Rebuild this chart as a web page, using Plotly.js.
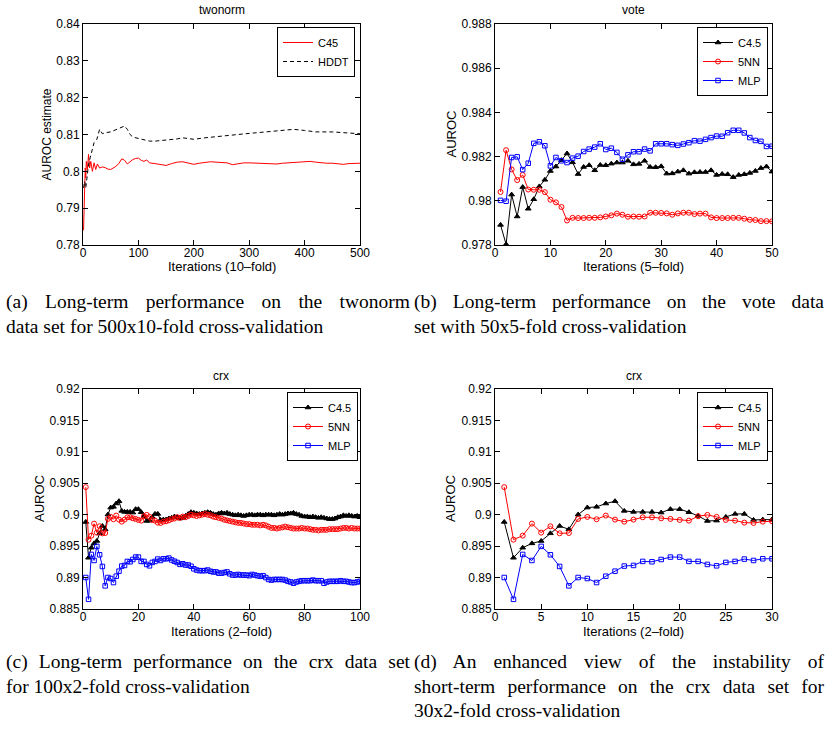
<!DOCTYPE html>
<html>
<head>
<meta charset="utf-8">
<script src="https://cdn.plot.ly/plotly-3.0.1.min.js"></script>
<style>
  html, body { margin: 0; padding: 0; background: #fff; }
  #chart { width: 828px; height: 729px; }
</style>
</head>
<body>
<div id="chart"></div>
<script>
// ---------------- DATA ----------------
// (a) twonorm, 500x10-fold
const twonormIterC45 = [1,2,3,4,5,6,8,10,12,14,17,20,23,26,30,35,40,45,50,55,60,65,70,75,80,85,90,95,100,105,110,115,120,130,140,150,160,165,170,180,190,200,210,220,230,240,250,260,270,280,290,300,310,320,330,340,350,360,370,380,390,400,410,420,430,440,450,460,470,480,490,500];
const twonormC45 = [0.7840,0.7900,0.7973,0.8009,0.7982,0.8027,0.8005,0.8046,0.8009,0.8027,0.8000,0.8023,0.8005,0.8020,0.8009,0.8012,0.8010,0.8006,0.8005,0.8009,0.8014,0.8022,0.8034,0.8030,0.8020,0.8026,0.8032,0.8035,0.8036,0.8030,0.8027,0.8031,0.8023,0.8021,0.8018,0.8016,0.8021,0.8024,0.8025,0.8026,0.8023,0.8019,0.8022,0.8024,0.8026,0.8025,0.8024,0.8023,0.8018,0.8021,0.8023,0.8023,0.8022,0.8022,0.8022,0.8021,0.8020,0.8022,0.8023,0.8023,0.8025,0.8026,0.8027,0.8025,0.8023,0.8022,0.8022,0.8021,0.8019,0.8021,0.8022,0.8022];
const twonormIterHDDT = [1,3,5,8,10,13,16,20,25,30,35,40,50,60,70,75,80,85,90,100,110,120,130,150,170,180,200,220,250,280,300,330,360,380,400,420,450,480,500];
const twonormHDDT = [0.7955,0.7973,0.7955,0.7991,0.8018,0.8037,0.8055,0.8078,0.8087,0.8114,0.8102,0.8105,0.8107,0.8114,0.8120,0.8123,0.8114,0.8100,0.8093,0.8089,0.8087,0.8082,0.8082,0.8084,0.8088,0.8091,0.8087,0.8091,0.8096,0.8100,0.8103,0.8107,0.8110,0.8114,0.8111,0.8107,0.8107,0.8105,0.8102];

// (b) vote, 50x5-fold (iterations 1..50)
const voteC45 = [0.97891,0.97803,0.98028,0.97929,0.98062,0.97964,0.98007,0.98065,0.98095,0.98135,0.98155,0.98184,0.98214,0.98174,0.98121,0.98153,0.98161,0.98138,0.98162,0.98161,0.98168,0.98173,0.98173,0.98181,0.98165,0.98167,0.98181,0.98153,0.98152,0.98156,0.98123,0.98124,0.98132,0.98138,0.98123,0.98129,0.98130,0.98130,0.98138,0.98117,0.98121,0.98120,0.98107,0.98117,0.98120,0.98126,0.98135,0.98148,0.98155,0.98132];
const vote5NN = [0.98040,0.98229,0.98142,0.98094,0.98117,0.98051,0.98050,0.98050,0.98039,0.98005,0.97993,0.97972,0.97911,0.97923,0.97922,0.97922,0.97923,0.97923,0.97925,0.97929,0.97934,0.97942,0.97937,0.97928,0.97929,0.97928,0.97929,0.97946,0.97946,0.97945,0.97943,0.97937,0.97943,0.97946,0.97946,0.97940,0.97942,0.97942,0.97925,0.97922,0.97922,0.97922,0.97923,0.97923,0.97919,0.97914,0.97913,0.97908,0.97908,0.97907];
const voteMLP = [0.98002,0.97998,0.98196,0.98199,0.98141,0.98170,0.98260,0.98267,0.98249,0.98158,0.98196,0.98181,0.98173,0.98193,0.98202,0.98223,0.98234,0.98243,0.98258,0.98232,0.98238,0.98219,0.98188,0.98208,0.98222,0.98222,0.98234,0.98226,0.98258,0.98258,0.98258,0.98254,0.98251,0.98257,0.98263,0.98272,0.98270,0.98278,0.98286,0.98293,0.98292,0.98308,0.98319,0.98319,0.98307,0.98286,0.98273,0.98269,0.98246,0.98247];

// (c)/(d) crx, 2-fold (iterations 1..100; (d) shows the first 30)
const crxC45 = [0.89885,0.89315,0.89475,0.89544,0.89582,0.89704,0.89821,0.89768,0.90002,0.90114,0.90125,0.90178,0.90215,0.90061,0.90045,0.90045,0.90045,0.90034,0.90088,0.90088,0.90040,0.89981,0.89901,0.89906,0.89965,0.90013,0.90013,0.89917,0.89922,0.89922,
  0.8994,0.8995,0.8997,0.8996,0.8994,0.8995,0.8998,0.9001,0.9004,0.9003,
  0.9002,0.9001,0.9002,0.9003,0.9004,0.9003,0.9001,0.9000,0.9002,0.9003,
  0.9002,0.9003,0.9001,0.9000,0.8999,0.9000,0.8999,0.8998,0.8999,0.9000,
  0.9000,0.8999,0.9000,0.9000,0.8999,0.9000,0.9000,0.9000,0.8999,0.9000,
  0.9001,0.9000,0.9001,0.9002,0.9002,0.9003,0.9001,0.9000,0.8998,0.8997,
  0.8997,0.8996,0.8997,0.8996,0.8995,0.8996,0.8995,0.8994,0.8993,0.8993,
  0.8994,0.8996,0.8997,0.8999,0.8998,0.8999,0.8998,0.8997,0.8998,0.8996];
const crx5NN = [0.90439,0.89603,0.89667,0.89858,0.89715,0.89816,0.89704,0.89709,0.89933,0.89965,0.89928,0.89986,0.89922,0.89890,0.89922,0.89959,0.89959,0.89943,0.89933,0.89917,0.89906,0.89976,0.89997,0.89965,0.89917,0.89906,0.89874,0.89869,0.89890,0.89896,
  0.8991,0.8993,0.8994,0.8996,0.8995,0.8997,0.8996,0.8998,0.9000,0.8999,
  0.8998,0.8999,0.9000,0.9001,0.9000,0.8999,0.8997,0.8996,0.8995,0.8994,
  0.8992,0.8991,0.8990,0.8989,0.8988,0.8987,0.8987,0.8986,0.8985,0.8985,
  0.8984,0.8984,0.8984,0.8983,0.8984,0.8983,0.8981,0.8979,0.8979,0.8978,
  0.8979,0.8980,0.8981,0.8980,0.8979,0.8978,0.8978,0.8978,0.8979,0.8978,
  0.8978,0.8977,0.8976,0.8976,0.8975,0.8976,0.8976,0.8976,0.8977,0.8977,
  0.8977,0.8977,0.8978,0.8979,0.8979,0.8978,0.8979,0.8978,0.8978,0.8978];
const crxMLP = [0.89001,0.88654,0.89368,0.89272,0.89496,0.89363,0.89177,0.88868,0.89001,0.88985,0.88921,0.89022,0.89102,0.89183,0.89193,0.89257,0.89251,0.89288,0.89326,0.89326,0.89257,0.89257,0.89209,0.89187,0.89241,0.89257,0.89294,0.89272,0.89299,0.89299,
  0.8931,0.8928,0.8926,0.8924,0.8921,0.8922,0.8920,0.8920,0.8918,0.8914,
  0.8912,0.8911,0.8911,0.8911,0.8912,0.8910,0.8909,0.8909,0.8907,0.8907,
  0.8908,0.8909,0.8906,0.8904,0.8904,0.8905,0.8904,0.8904,0.8904,0.8903,
  0.8905,0.8904,0.8903,0.8902,0.8903,0.8900,0.8897,0.8896,0.8897,0.8897,
  0.8897,0.8897,0.8896,0.8894,0.8893,0.8891,0.8893,0.8894,0.8895,0.8895,
  0.8895,0.8895,0.8896,0.8895,0.8895,0.8895,0.8891,0.8893,0.8894,0.8894,
  0.8894,0.8894,0.8895,0.8894,0.8894,0.8893,0.8892,0.8892,0.8893,0.8894];

// tick labels
const twonormXTicks = [0,100,200,300,400,500];
const twonormYTicks = [0.78,0.79,0.80,0.81,0.82,0.83,0.84];
const twonormYLabels = ['0.78','0.79','0.8','0.81','0.82','0.83','0.84'];
const voteXTicks = [0,10,20,30,40,50];
const voteYTicks = [0.978,0.980,0.982,0.984,0.986,0.988];
const voteYLabels = ['0.978','0.98','0.982','0.984','0.986','0.988'];
const crxLongXTicks = [0,20,40,60,80,100];
const crxShortXTicks = [0,5,10,15,20,25,30];
const crxYTicks = [0.885,0.890,0.895,0.900,0.905,0.910,0.915,0.920];
const crxYLabels = ['0.885','0.89','0.895','0.9','0.905','0.91','0.915','0.92'];

const seriesNames = ['C4.5','5NN','MLP'];

// ---------------- BUILD ----------------
const W = 828, H = 729;
const px = v => v / W;
const py = v => 1 - v / H;
const range1 = n => Array.from({length: n}, (_, i) => i + 1);

const RED = 'rgb(255,0,0)', BLUE = 'rgb(0,0,255)', BLACK = 'rgb(0,0,0)';
const styles = [
  {color: BLACK, symbol: 'triangle-up', size: 5},
  {color: RED, symbol: 'circle-open', size: 5},
  {color: BLUE, symbol: 'square-open', size: 4.5}
];

const data = [];
data.push({x: twonormIterC45, y: twonormC45, name: 'C45', type: 'scatter', mode: 'lines',
  line: {color: RED, width: 1}, xaxis: 'x', yaxis: 'y', legend: 'legend'});
data.push({x: twonormIterHDDT, y: twonormHDDT, name: 'HDDT', type: 'scatter', mode: 'lines',
  line: {color: BLACK, width: 1, dash: '4px,3px'}, xaxis: 'x', yaxis: 'y', legend: 'legend'});

function addTriple(ys, n, ax, ay, leg) {
  ys.forEach((arr, i) => {
    const s = styles[i];
    data.push({
      x: range1(n), y: arr.slice(0, n), name: seriesNames[i], type: 'scatter', mode: 'lines+markers',
      line: {color: s.color, width: 1},
      marker: {symbol: s.symbol, size: s.size, color: s.color, line: {color: s.color, width: 1}},
      xaxis: ax, yaxis: ay, legend: leg
    });
  });
}
addTriple([voteC45, vote5NN, voteMLP], 50, 'x2', 'y2', 'legend2');
addTriple([crxC45, crx5NN, crxMLP], 100, 'x3', 'y3', 'legend3');
addTriple([crxC45, crx5NN, crxMLP], 30, 'x4', 'y4', 'legend4');

const FONT = 'Liberation Sans, Arial, Helvetica, sans-serif';
const SERIF = 'Liberation Serif, Times New Roman, Times, serif';

function axisBase(extra) {
  return Object.assign({
    showline: true, linecolor: BLACK, linewidth: 1, mirror: 'allticks',
    ticks: 'inside', ticklen: 5, tickwidth: 1, tickcolor: BLACK,
    showgrid: false, zeroline: false, autorange: false,
    tickfont: {family: FONT, size: 12, color: BLACK}
  }, extra);
}

const colL = [px(83), px(360)];
const colR = [px(495), px(772)];
const rowT = [py(245), py(24)];
const rowB = [py(609), py(389)];

function legendAt(rightPx, topPx) {
  return {
    x: px(rightPx), y: py(topPx), xanchor: 'right', yanchor: 'top',
    bgcolor: 'white', bordercolor: BLACK, borderwidth: 1,
    font: {family: FONT, size: 11, color: BLACK},
    itemwidth: 30, tracegroupgap: 0
  };
}

function textAnno(text, xPx, yPx, opts) {
  return Object.assign({
    text: text, x: px(xPx), y: py(yPx), xref: 'paper', yref: 'paper',
    showarrow: false, xanchor: 'center', yanchor: 'middle',
    font: {family: FONT, size: 12, color: BLACK}
  }, opts || {});
}

const XT = {family: FONT, size: 13, color: BLACK};
const annotations = [
  textAnno('twonorm', 221.5, 10),
  textAnno('vote', 633.5, 10),
  textAnno('crx', 221, 376),
  textAnno('crx', 633.5, 376),
  textAnno('Iterations (10\u2013fold)', 221.5, 266, {font: XT}),
  textAnno('Iterations (5\u2013fold)', 633.5, 266, {font: XT}),
  textAnno('Iterations (2\u2013fold)', 221, 631, {font: XT}),
  textAnno('Iterations (2\u2013fold)', 633.5, 631, {font: XT}),
  textAnno('AUROC estimate', 47, 134.5, {textangle: -90, font: {family: FONT, size: 12, color: BLACK}}),
  textAnno('AUROC', 451, 134.5, {textangle: -90, font: XT}),
  textAnno('AUROC', 40, 499, {textangle: -90, font: XT}),
  textAnno('AUROC', 451, 499, {textangle: -90, font: XT})
];

// captions: [text, left x, center y, justified width or 0]
const captions = [
  ['(a) Long-term performance on the twonorm', 4, 302, 404],
  ['data set for 500x10-fold cross-validation', 4, 326, 0],
  ['(b) Long-term performance on the vote data', 412, 302, 410],
  ['set with 50x5-fold cross-validation', 412, 326, 0],
  ['(c) Long-term performance on the crx data set', 4, 662, 404],
  ['for 100x2-fold cross-validation', 4, 686, 0],
  ['(d) An enhanced view of the instability of', 412, 662, 410],
  ['short-term performance on the crx data set for', 412, 686, 410],
  ['30x2-fold cross-validation', 412, 710, 0]
];
const captionStart = annotations.length;
captions.forEach(c => {
  annotations.push(textAnno(c[0], c[1], c[2], {
    xanchor: 'left', align: 'left', font: {family: SERIF, size: 19.5, color: BLACK}
  }));
});

const xExtra = {ticklabelstandoff: -3};
const layout = {
  width: W, height: H,
  margin: {l: 0, r: 0, t: 0, b: 0, pad: 0},
  paper_bgcolor: 'white', plot_bgcolor: 'white',
  font: {family: FONT, size: 12, color: BLACK},
  xaxis: axisBase(Object.assign({domain: colL, anchor: 'y', range: [0, 500], tickvals: twonormXTicks}, xExtra)),
  yaxis: axisBase({domain: rowT, anchor: 'x', range: [0.78, 0.84], tickvals: twonormYTicks, ticktext: twonormYLabels}),
  xaxis2: axisBase(Object.assign({domain: colR, anchor: 'y2', range: [0, 50], tickvals: voteXTicks}, xExtra)),
  yaxis2: axisBase({domain: rowT, anchor: 'x2', range: [0.978, 0.988], tickvals: voteYTicks, ticktext: voteYLabels}),
  xaxis3: axisBase(Object.assign({domain: colL, anchor: 'y3', range: [0, 100], tickvals: crxLongXTicks}, xExtra)),
  yaxis3: axisBase({domain: rowB, anchor: 'x3', range: [0.885, 0.92], tickvals: crxYTicks, ticktext: crxYLabels}),
  xaxis4: axisBase(Object.assign({domain: colR, anchor: 'y4', range: [0, 30], tickvals: crxShortXTicks}, xExtra)),
  yaxis4: axisBase({domain: rowB, anchor: 'x4', range: [0.885, 0.92], tickvals: crxYTicks, ticktext: crxYLabels}),
  legend: legendAt(355, 27),
  legend2: legendAt(768, 27),
  legend3: legendAt(358, 392),
  legend4: legendAt(768, 392),
  showlegend: true,
  annotations: annotations
};

Plotly.newPlot('chart', data, layout, {displayModeBar: false, staticPlot: true}).then(gd => {
  // justify caption lines the way the original typeset text is
  captions.forEach((c, i) => {
    if (!c[3]) return;
    const g = gd.querySelector('.annotation[data-index="' + (captionStart + i) + '"]');
    if (!g) return;
    const t = g.querySelector('text.annotation-text');
    if (!t) return;
    const natural = t.getComputedTextLength();
    const spaces = (c[0].match(/ /g) || []).length;
    if (spaces > 0 && c[3] > natural) {
      t.style.wordSpacing = ((c[3] - natural) / spaces) + 'px';
    }
  });
});
</script>
</body>
</html>
